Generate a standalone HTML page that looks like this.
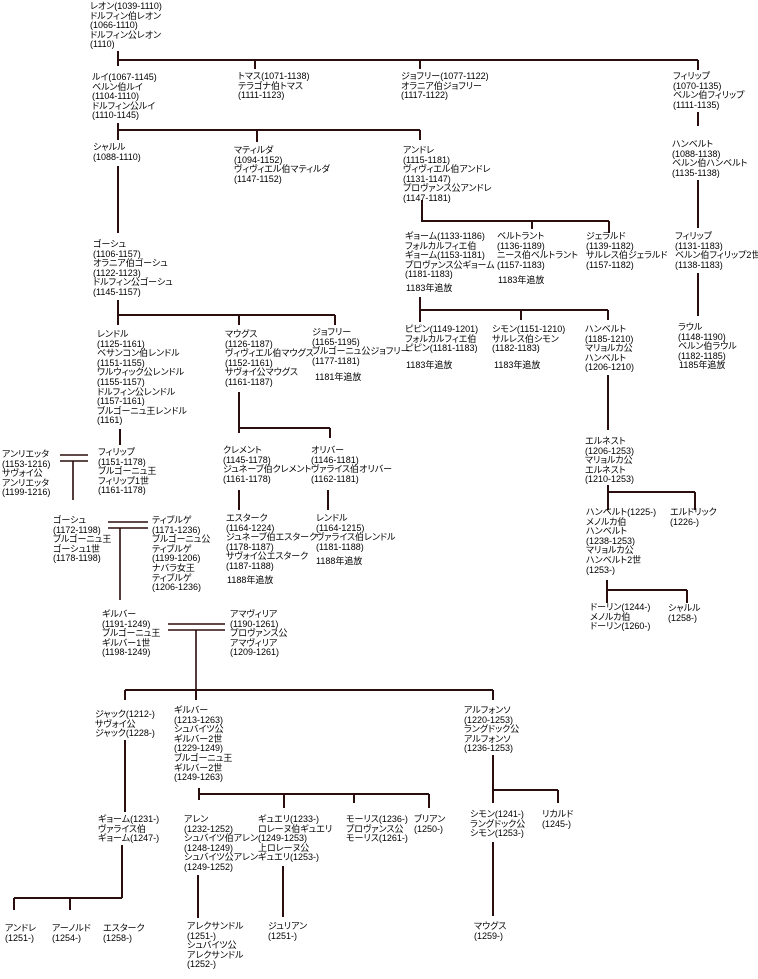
<!DOCTYPE html>
<html><head><meta charset="utf-8"><style>
body{margin:0;width:758px;height:979px;background:#fff;position:relative;overflow:hidden}
.t{position:absolute;font-family:"Liberation Sans","Noto Sans CJK JP",sans-serif;font-size:9px;letter-spacing:0;font-feature-settings:"palt";line-height:9.6px;color:#000;white-space:nowrap}
svg{position:absolute;left:0;top:0}
</style></head><body>
<svg width="758" height="979" stroke="#2a0d0d" stroke-width="2" fill="none">
<path d="M118 51V66M118 60H698M255 60V69M420 60V69M698 60V70"/>
<path d="M118 123V140M118 130H420M257 130V142M420 130V140"/>
<path d="M118 166V233M118 300V325M118 315H335M239 315V325M335 315V325"/>
<path d="M120 429V445M239 392V433M239 428H330M330 428V438"/>
<path d="M60 455H88M60 461H88M73 461V500" stroke-width="1.6"/>
<path d="M239 490V510M328 490V510"/>
<path d="M108 522H148M108 528H148M120 528V600" stroke-width="1.6"/>
<path d="M168 624H225M168 630H225M196 630V690" stroke-width="1.6"/>
<path d="M125 690H493M125 690V700M196 690V700M493 690V700"/>
<path d="M125 740V812M122 845V898M14 898H122M14 898V910M70 898V910"/>
<path d="M199 788V800M199 794H429M284 794V808M354 794V803M429 794V808"/>
<path d="M198 875V918M283 866V917"/>
<path d="M493 755V803M493 790H558M558 790V803M493 842V916"/>
<path d="M422 200V222M422 221H609M532 221V229M609 221V233"/>
<path d="M420 297V322M420 310H608M521 310V320M608 310V320M608 375V430"/>
<path d="M698 112V126M698 180V228M698 273V316"/>
<path d="M608 485V510M608 492H695M695 492V510"/>
<path d="M607 580V603M607 590H687M687 590V603"/>
</svg>
<div class="t" style="left:90px;top:2px">レオン(1039-1110)<br>ドルフィン伯レオン<br>(1066-1110)<br>ドルフィン公レオン<br>(1110)</div>
<div class="t" style="left:92px;top:73px">ルイ(1067-1145)<br>ベルン伯ルイ<br>(1104-1110)<br>ドルフィン公ルイ<br>(1110-1145)</div>
<div class="t" style="left:238px;top:72px">トマス(1071-1138)<br>テラゴナ伯トマス<br>(1111-1123)</div>
<div class="t" style="left:401px;top:72px">ジョフリー(1077-1122)<br>オラニア伯ジョフリー<br>(1117-1122)</div>
<div class="t" style="left:673px;top:72px">フィリップ<br>(1070-1135)<br>ベルン伯フィリップ<br>(1111-1135)</div>
<div class="t" style="left:93px;top:143px">シャルル<br>(1088-1110)</div>
<div class="t" style="left:234px;top:146px">マティルダ<br>(1094-1152)<br>ヴィヴィエル伯マティルダ<br>(1147-1152)</div>
<div class="t" style="left:403px;top:146px">アンドレ<br>(1115-1181)<br>ヴィヴィエル伯アンドレ<br>(1131-1147)<br>プロヴァンス公アンドレ<br>(1147-1181)</div>
<div class="t" style="left:672px;top:140px">ハンベルト<br>(1088-1138)<br>ベルン伯ハンベルト<br>(1135-1138)</div>
<div class="t" style="left:93px;top:240px">ゴーシュ<br>(1106-1157)<br>オラニア伯ゴーシュ<br>(1122-1123)<br>ドルフィン公ゴーシュ<br>(1145-1157)</div>
<div class="t" style="left:405px;top:232px">ギョーム(1133-1186)<br>フォルカルフィエ伯<br>ギョーム(1153-1181)<br>プロヴァンス公ギョーム<br>(1181-1183)</div>
<div class="t" style="left:406px;top:284px">1183年追放</div>
<div class="t" style="left:497px;top:232px">ベルトラント<br>(1136-1189)<br>ニース伯ベルトラント<br>(1157-1183)</div>
<div class="t" style="left:498px;top:276px">1183年追放</div>
<div class="t" style="left:586px;top:232px">ジェラルド<br>(1139-1182)<br>サルレス伯ジェラルド<br>(1157-1182)</div>
<div class="t" style="left:675px;top:232px">フィリップ<br>(1131-1183)<br>ベルン伯フィリップ2世<br>(1138-1183)</div>
<div class="t" style="left:97px;top:330px">レンドル<br>(1125-1161)<br>ベサンコン伯レンドル<br>(1151-1155)<br>ワルウィック公レンドル<br>(1155-1157)<br>ドルフィン公レンドル<br>(1157-1161)<br>ブルゴーニュ王レンドル<br>(1161)</div>
<div class="t" style="left:225px;top:330px">マウグス<br>(1126-1187)<br>ヴィヴィエル伯マウグス<br>(1152-1161)<br>サヴォイ公マウグス<br>(1161-1187)</div>
<div class="t" style="left:312px;top:328px">ジョフリー<br>(1165-1195)<br>ブルゴーニュ公ジョフリー<br>(1177-1181)</div>
<div class="t" style="left:315px;top:373px">1181年追放</div>
<div class="t" style="left:405px;top:325px">ピピン(1149-1201)<br>フォルカルフィエ伯<br>ピピン(1181-1183)</div>
<div class="t" style="left:406px;top:361px">1183年追放</div>
<div class="t" style="left:492px;top:325px">シモン(1151-1210)<br>サルレス伯シモン<br>(1182-1183)</div>
<div class="t" style="left:494px;top:361px">1183年追放</div>
<div class="t" style="left:585px;top:325px">ハンベルト<br>(1185-1210)<br>マリョルカ公<br>ハンベルト<br>(1206-1210)</div>
<div class="t" style="left:678px;top:323px">ラウル<br>(1148-1190)<br>ベルン伯ラウル<br>(1182-1185)</div>
<div class="t" style="left:679px;top:361px">1185年追放</div>
<div class="t" style="left:2px;top:450px">アンリエッタ<br>(1153-1216)<br>サヴォイ公<br>アンリエッタ<br>(1199-1216)</div>
<div class="t" style="left:98px;top:448px">フィリップ<br>(1151-1178)<br>ブルゴーニュ王<br>フィリップ1世<br>(1161-1178)</div>
<div class="t" style="left:223px;top:446px">クレメント<br>(1145-1178)<br>ジュネーブ伯クレメント<br>(1161-1178)</div>
<div class="t" style="left:311px;top:446px">オリバー<br>(1146-1181)<br>ヴァライス伯オリバー<br>(1162-1181)</div>
<div class="t" style="left:585px;top:437px">エルネスト<br>(1206-1253)<br>マリョルカ公<br>エルネスト<br>(1210-1253)</div>
<div class="t" style="left:53px;top:516px">ゴーシュ<br>(1172-1198)<br>ブルゴーニュ王<br>ゴーシュ1世<br>(1178-1198)</div>
<div class="t" style="left:152px;top:516px">ティブルゲ<br>(1171-1236)<br>ブルゴーニュ公<br>ティブルゲ<br>(1199-1206)<br>ナバラ女王<br>ティブルゲ<br>(1206-1236)</div>
<div class="t" style="left:226px;top:514px">エスターク<br>(1164-1224)<br>ジュネーブ伯エスターク<br>(1178-1187)<br>サヴォイ公エスターク<br>(1187-1188)</div>
<div class="t" style="left:227px;top:576px">1188年追放</div>
<div class="t" style="left:316px;top:514px">レンドル<br>(1164-1215)<br>ヴァライス伯レンドル<br>(1181-1188)</div>
<div class="t" style="left:316px;top:557px">1188年追放</div>
<div class="t" style="left:586px;top:508px">ハンベルト(1225-)<br>メノルカ伯<br>ハンベルト<br>(1238-1253)<br>マリョルカ公<br>ハンベルト2世<br>(1253-)</div>
<div class="t" style="left:670px;top:508px">エルドリック<br>(1226-)</div>
<div class="t" style="left:102px;top:610px">ギルバー<br>(1191-1249)<br>ブルゴーニュ王<br>ギルバー1世<br>(1198-1249)</div>
<div class="t" style="left:230px;top:610px">アマヴィリア<br>(1190-1261)<br>プロヴァンス公<br>アマヴィリア<br>(1209-1261)</div>
<div class="t" style="left:590px;top:603px">ドーリン(1244-)<br>メノルカ伯<br>ドーリン(1260-)</div>
<div class="t" style="left:668px;top:604px">シャルル<br>(1258-)</div>
<div class="t" style="left:95px;top:710px">ジャック(1212-)<br>サヴォイ公<br>ジャック(1228-)</div>
<div class="t" style="left:174px;top:706px">ギルバー<br>(1213-1263)<br>シュバイツ公<br>ギルバー2世<br>(1229-1249)<br>ブルゴーニュ王<br>ギルバー2世<br>(1249-1263)</div>
<div class="t" style="left:464px;top:706px">アルフォンソ<br>(1220-1253)<br>ラングドック公<br>アルフォンソ<br>(1236-1253)</div>
<div class="t" style="left:98px;top:815px">ギョーム(1231-)<br>ヴァライス伯<br>ギョーム(1247-)</div>
<div class="t" style="left:184px;top:815px">アレン<br>(1232-1252)<br>シュバイツ伯アレン<br>(1248-1249)<br>シュバイツ公アレン<br>(1249-1252)</div>
<div class="t" style="left:258px;top:815px">ギュエリ(1233-)<br>ロレーヌ伯ギュエリ<br>(1249-1253)<br>上ロレーヌ公<br>ギュエリ(1253-)</div>
<div class="t" style="left:346px;top:815px">モーリス(1236-)<br>プロヴァンス公<br>モーリス(1261-)</div>
<div class="t" style="left:414px;top:815px">ブリアン<br>(1250-)</div>
<div class="t" style="left:470px;top:810px">シモン(1241-)<br>ラングドック公<br>シモン(1253-)</div>
<div class="t" style="left:542px;top:810px">リカルド<br>(1245-)</div>
<div class="t" style="left:5px;top:924px">アンドレ<br>(1251-)</div>
<div class="t" style="left:52px;top:924px">アーノルド<br>(1254-)</div>
<div class="t" style="left:103px;top:924px">エスターク<br>(1258-)</div>
<div class="t" style="left:187px;top:922px">アレクサンドル<br>(1251-)<br>シュバイツ公<br>アレクサンドル<br>(1252-)</div>
<div class="t" style="left:268px;top:922px">ジュリアン<br>(1251-)</div>
<div class="t" style="left:474px;top:922px">マウグス<br>(1259-)</div>
</body></html>
